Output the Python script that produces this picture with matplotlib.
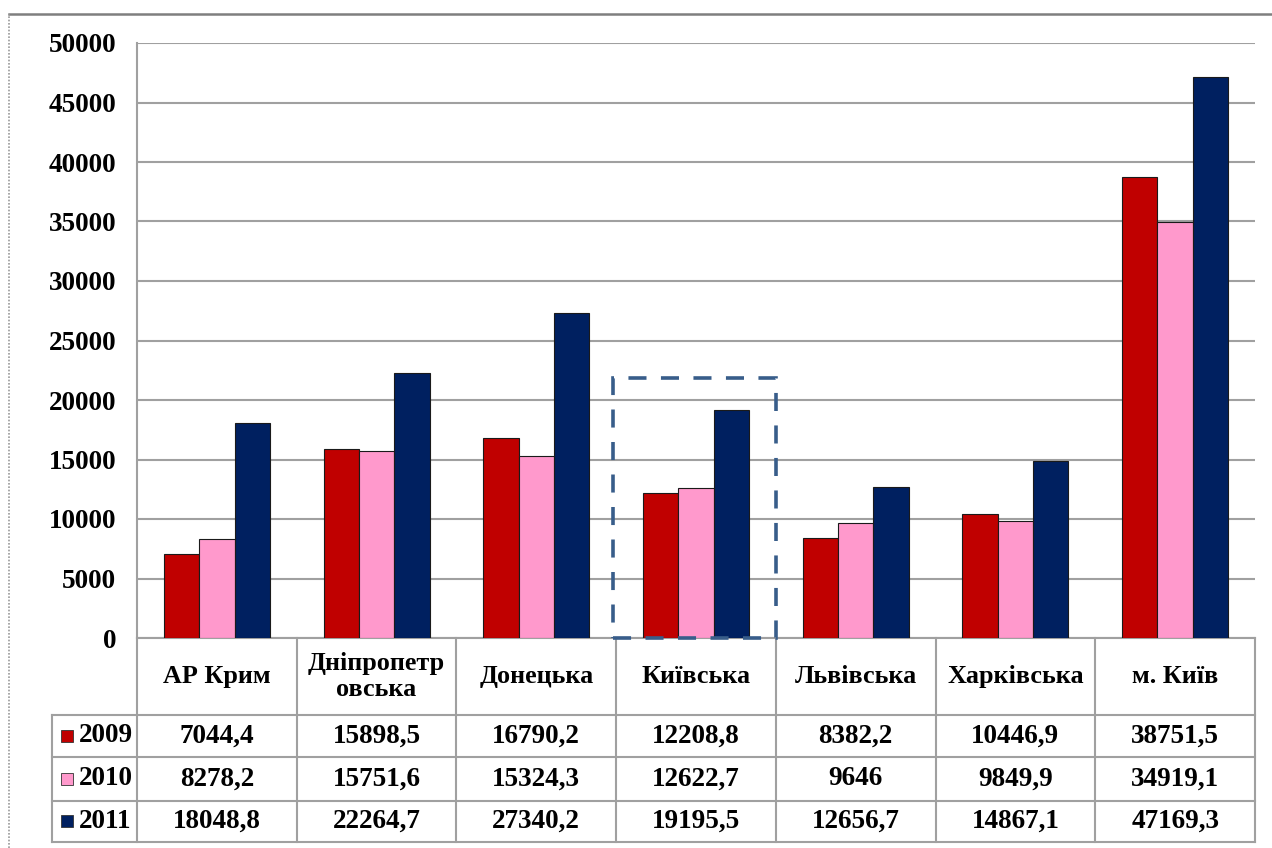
import numpy as np
import matplotlib.pyplot as plt
from matplotlib.patches import Rectangle
from matplotlib.lines import Line2D


# --------------------------------------------------
# Data: regions and yearly values
# --------------------------------------------------

regions = [
    "АР Крим",
    "Дніпропетр\nовська",
    "Донецька",
    "Київська",
    "Львівська",
    "Харківська",
    "м. Київ",
]

years = ["2009", "2010", "2011"]

values_2009 = [7044.4, 15898.5, 16790.2, 12208.8, 8382.2, 10446.9, 38751.5]
values_2010 = [8278.2, 15751.6, 15324.3, 12622.7, 9646.0, 9849.9, 34919.1]
values_2011 = [18048.8, 22264.7, 27340.2, 19195.5, 12656.7, 14867.1, 47169.3]

series = [values_2009, values_2010, values_2011]
colors = ["#C00000", "#FF99CC", "#002060"]

highlighted_region = 3
highlight_top = 21850

y_ticks = np.arange(0, 50001, 5000)


def format_value(value):
    if float(value).is_integer():
        return str(int(value))
    return f"{value:.1f}".replace(".", ",")


# --------------------------------------------------
# Figure and axes
# --------------------------------------------------

plt.rcParams["font.family"] = ["Liberation Serif", "DejaVu Serif"]
plt.rcParams["font.weight"] = "bold"

width_px, height_px = 1272, 848
figure = plt.figure(figsize=(width_px / 100, height_px / 100), dpi=100)

axes = figure.add_axes([
    137 / width_px,
    1 - 638 / height_px,
    1118 / width_px,
    595 / height_px,
])

grid_color = "#A0A0A0"
tick_size = 19.5
value_size = 19.5
header_size = 18.8

x = np.arange(len(regions))
bar_width = 0.221

for index, (values, color) in enumerate(zip(series, colors)):
    axes.bar(
        x + (index - 1) * bar_width,
        values,
        width=bar_width,
        color=color,
        edgecolor="#1a1a1a",
        linewidth=0.8,
        zorder=3,
    )

axes.set_xlim(-0.5, len(regions) - 0.5)
axes.set_ylim(0, 50000)
axes.set_yticks(y_ticks)
axes.set_yticklabels([str(t) for t in y_ticks], fontsize=tick_size, fontweight="bold")
axes.tick_params(axis="y", length=0, pad=15)
axes.set_xticks([])

axes.yaxis.grid(True, color=grid_color, linewidth=1.5, zorder=0)
for side in ["top", "right"]:
    axes.spines[side].set_visible(False)
for side in ["left", "bottom"]:
    axes.spines[side].set_color(grid_color)
    axes.spines[side].set_linewidth(1.5)

# dashed frame around the highlighted region
axes.add_patch(
    Rectangle(
        (highlighted_region - 0.52, 0),
        1.02,
        highlight_top,
        fill=False,
        edgecolor="#385D8A",
        linewidth=2.6,
        linestyle=(0, (5.0, 4.0)),
        zorder=4,
        clip_on=False,
    )
)


# --------------------------------------------------
# Data table under the chart
# --------------------------------------------------

table_transform = axes.get_xaxis_transform()
row_edges = [0.0, -0.1294, -0.2, -0.2735, -0.3429]
label_left = -1.032
column_right = len(regions) - 0.5

for edge in row_edges[1:]:
    axes.add_line(Line2D(
        [label_left, column_right], [edge, edge],
        transform=table_transform, color=grid_color,
        linewidth=1.5, clip_on=False,
    ))

for boundary in np.arange(-0.5, len(regions), 1.0):
    axes.add_line(Line2D(
        [boundary, boundary], [0, row_edges[-1]],
        transform=table_transform, color=grid_color,
        linewidth=1.5, clip_on=False,
    ))

axes.add_line(Line2D(
    [label_left, label_left], [row_edges[1], row_edges[-1]],
    transform=table_transform, color=grid_color,
    linewidth=1.5, clip_on=False,
))

header_center = (row_edges[0] + row_edges[1]) / 2
for position, region in zip(x, regions):
    axes.text(
        position, header_center, region,
        transform=table_transform, ha="center", va="center",
        fontsize=header_size, fontweight="bold", linespacing=1.2,
    )

for row, (year, values, color) in enumerate(zip(years, series, colors)):
    row_center = (row_edges[row + 1] + row_edges[row + 2]) / 2
    axes.plot(
        [-0.937], [row_center],
        marker="s", markersize=9.0, color=color,
        markeredgecolor="#333333", markeredgewidth=0.6,
        transform=table_transform, clip_on=False,
    )
    axes.text(
        -0.866, row_center, year,
        transform=table_transform, ha="left", va="center",
        fontsize=value_size, fontweight="bold",
    )
    for position, value in zip(x, values):
        axes.text(
            position, row_center, format_value(value),
            transform=table_transform, ha="center", va="center",
            fontsize=value_size, fontweight="bold",
        )


# --------------------------------------------------
# Outer border of the slide
# --------------------------------------------------

border_top = 1 - 14 / height_px
border_left = 9 / width_px

figure.add_artist(Line2D(
    [border_left, 1.0], [border_top, border_top],
    transform=figure.transFigure, color="#7F7F7F", linewidth=1.8,
))
figure.add_artist(Line2D(
    [border_left, border_left], [0.0, border_top],
    transform=figure.transFigure, color="#9A9A9A",
    linewidth=1.2, linestyle=(0, (1, 1)),
))

figure.savefig("out.png", dpi=100)
